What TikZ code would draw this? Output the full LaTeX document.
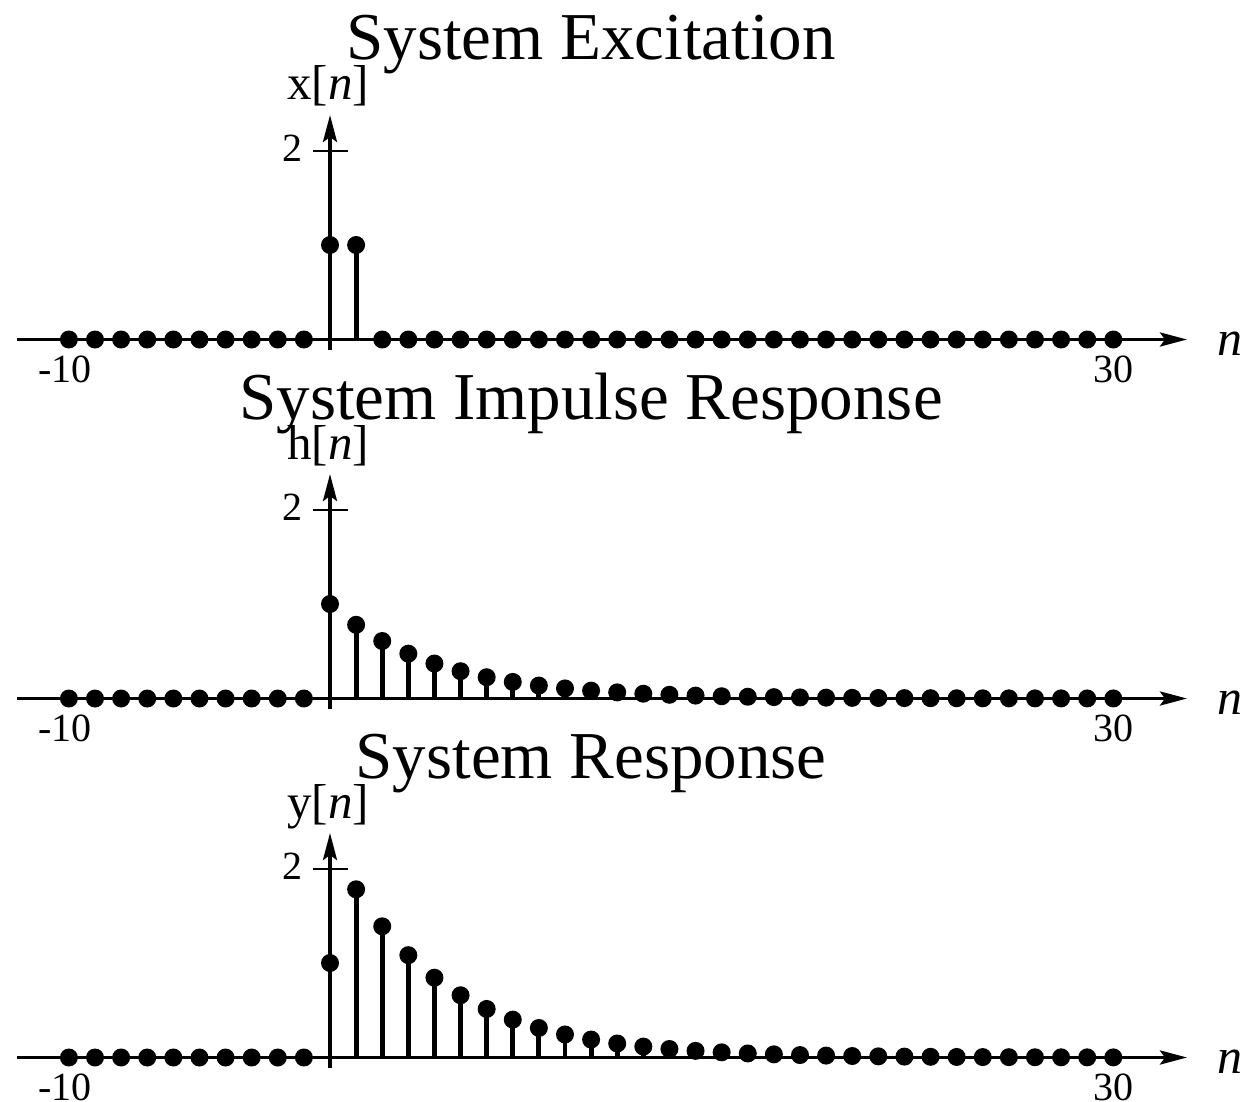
\documentclass[tikz,border=0pt]{standalone}
\usepackage{fontspec}
\setmainfont{Liberation Serif}
\usetikzlibrary{arrows.meta}
\begin{document}
\begin{tikzpicture}[x=0.5pt,y=-0.5pt,
  axisline/.style={line width=1.8pt},
  stemline/.style={line width=2.4pt},
  tickline/.style={line width=1pt},
  ttl/.style={font=\fontsize{33.5}{36}\selectfont, anchor=base, inner sep=0pt},
  ylab/.style={font=\fontsize{24.5}{27}\selectfont, anchor=base, inner sep=0pt},
  tlab/.style={font=\fontsize{20}{22}\selectfont, anchor=base, inner sep=0pt},
  nlab/.style={font=\fontsize{25}{28}\selectfont\itshape, anchor=base, inner sep=0pt},
  arr/.style={-{Stealth[length=13.5pt,width=7pt,inset=2.5pt]}}
]
\useasboundingbox (0,0) rectangle (1247,1102);
\foreach \k in {0,1,2} {
  \pgfmathsetmacro{\ay}{339.5+359*\k}
  \node[ttl] (title\k) at (591,\ay-279.5) {\ifcase\k System Excitation\or System Impulse Response\or System Response\fi};
  \node[ylab] (ylab\k) at (328,\ay-239.5) {\ifcase\k x\or h\or y\fi[\textit{n}]};
  \coordinate (tka\k) at (313,\ay-189);
  \coordinate (tkb\k) at (348,\ay-189);
  \draw[tickline] (tka\k) -- (tkb\k);
  \node[tlab, anchor=base east] (two\k) at (303,\ay-178) {2};
  \coordinate (xs\k) at (17,\ay);
  \coordinate (xe\k) at (1187,\ay);
  \draw[axisline,arr] (xs\k) -- (xe\k);
  \coordinate (ys\k) at (330,\ay+10);
  \coordinate (ye\k) at (330,\ay-224.5);
  \draw[axisline,arr] (ys\k) -- (ye\k);
  \node[nlab] (nl\k) at (1230,\ay+16) {n};
  \node[tlab] (lo\k) at (65,\ay+43) {-10};
  \node[tlab] (hi\k) at (1113,\ay+43) {30};
  \foreach \n in {-10,...,30} {
    \ifnum\n<0 \def\v{0}\else
      \ifcase\k
        \ifnum\n<2 \def\v{1}\else\def\v{0}\fi
      \or \pgfmathsetmacro{\v}{0.78^\n}
      \or \ifnum\n=0 \def\v{1}\else\pgfmathsetmacro{\v}{1.78*0.78^(\n-1)}\fi
      \fi
    \fi
    \pgfmathsetmacro{\px}{330+26.11*\n}
    \pgfmathsetmacro{\py}{\ay-94.5*\v}
    \coordinate (b\k\n) at (\px,\ay);
    \coordinate (t\k\n) at (\px,\py);
    \draw[stemline] (b\k\n) -- (t\k\n);
    \fill (t\k\n) circle (9);
  }
}
\end{tikzpicture}
\end{document}
